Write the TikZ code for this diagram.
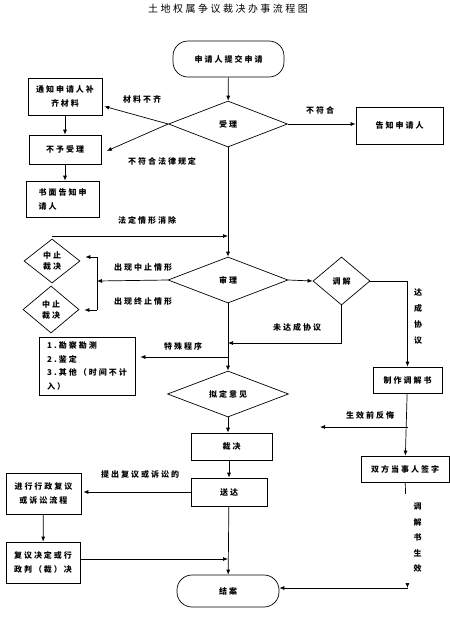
\documentclass[tikz,border=0pt]{standalone}
\usepackage{fontspec}
\newfontfamily\cjk{Noto Sans CJK SC}[LetterSpace=25]
\usetikzlibrary{positioning,arrows.meta,shapes.geometric}

\begin{document}
\begin{tikzpicture}[x=1pt, y=-1pt, >={Latex[length=5pt,width=4pt]}, line width=0.7pt,
  every node/.style={font=\cjk\bfseries\fontsize{8}{14}\selectfont, inner sep=1pt},
  box/.style={draw, align=center, inner sep=2pt},
  term/.style={draw, rounded corners=15pt, align=center},
  dec/.style={draw, diamond, align=center, inner sep=0pt},
  vlab/.style={align=center, font=\cjk\bfseries\fontsize{8}{#1}\selectfont}]
  \useasboundingbox (0,0) rectangle (450,622);
  \node[font=\cjk\fontsize{10}{12}\selectfont] (title) at (228,9) {土地权属争议裁决办事流程图};

  % main column
  \node[term, minimum width=111pt, minimum height=36pt] (start) at (228.5,59) {申请人提交申请};
  \node[dec, minimum width=119pt, minimum height=46pt] (accept) at (228,124) {受理};
  \node[dec, minimum width=120pt, minimum height=46pt] (hear) at (228,280) {审理};
  \node[dec, minimum width=121pt, minimum height=46pt] (draft) at (228,394) {拟定意见};
  \node[box, minimum width=81pt, minimum height=27pt] (ruling) at (231.5,446.5) {裁决};
  \node[box, minimum width=76pt, minimum height=28pt] (deliver) at (229,492) {送达};
  \node[term, minimum width=102pt, minimum height=32pt] (close) at (228,591) {结案};

  % left side
  \node[box, minimum width=74pt, minimum height=37pt] (notify) at (65,96.5) {通知申请人补\\齐材料};
  \node[box, minimum width=72pt, minimum height=29pt] (reject) at (65,149.5) {不予受理};
  \node[box, minimum width=73pt, minimum height=36pt, align=left] (written) at (62.5,199) {书面告知申\\请人};
  \node[dec, minimum width=56pt, minimum height=44pt, vlab=11] (pause) at (52,261) {中止\\裁决};
  \node[dec, minimum width=56pt, minimum height=47pt, vlab=11] (stop) at (51,309.5) {中止\\裁决};
  \node[box, minimum width=96pt, minimum height=58pt, vlab=13.5, align=left] (special) at (87,366)
    {1.勘察勘测\\2.鉴定\\3.其他（时间不计\\入）};
  \node[box, minimum width=75pt, minimum height=41pt] (review) at (43.5,493.5) {进行行政复议\\或诉讼流程};
  \node[box, minimum width=74pt, minimum height=41pt, align=left] (decision) at (43,562.5) {复议决定或行\\政判（裁）决};

  % right side
  \node[box, minimum width=87pt, minimum height=37pt] (inform) at (399.5,125.5) {告知申请人};
  \node[dec, minimum width=57pt, minimum height=48pt] (mediate) at (341.5,281) {调解};
  \node[box, minimum width=69pt, minimum height=26pt] (book) at (407.5,380) {制作调解书};
  \node[box, minimum width=88pt, minimum height=26pt] (sign) at (405,469) {双方当事人签字};

  \coordinate (resume) at (52,236);
  \coordinate (split) at (97,281);
  \coordinate (upper) at (97,257);
  \coordinate (lower) at (97,310);
  \coordinate (nomeet) at (228,343);
  \coordinate (detour) at (228,357);
  \coordinate (regret) at (407.5,427);
  \coordinate (regretend) at (320,427);
  \coordinate (valid) at (407.5,588);
  \coordinate (merge) at (228,559);

  \draw[->] (start) -- (accept);
  \draw[->, shorten >=2pt] (accept.west) -- (notify.-14);
  \draw[->, shorten >=6pt] (accept.west) -- (reject.-6);
  \draw[->] (notify) -- (reject);
  \draw[->] (reject.south) -- (reject.south |- written.north);
  \draw[->] (accept.east) -- (accept.east -| inform.west);
  \draw[->] (accept) -- (hear);
  \draw[->] (resume) -- (resume -| hear.north);
  \draw[->] (hear.west) -- (split);
  \draw (upper) -- (lower);
  \draw[->, shorten >=5pt] (upper) -- (upper -| pause.east);
  \draw[->, shorten >=5pt] (lower) -- (lower -| stop.east);
  \draw[->] (hear.east) -- (mediate.west);
  \draw[->] (mediate.east) -| (book.north);
  \draw[->] (mediate.south) |- (nomeet);
  \draw[->] (hear) -- (draft);
  \draw[->, shorten >=5pt] (detour) -- (detour -| special.east);
  \draw[->] (draft.south) -- (draft.south |- ruling.north);
  \draw[->] (ruling.south -| deliver.north) -- (deliver.north);
  \draw[->] (book) -- (sign);
  \draw[->] (regret) -- (regretend);
  \draw[->] (sign) -- (valid);
  \draw[->] (valid) -- (valid -| close.east);
  \draw[->, shorten >=2pt] (deliver.west) -- (deliver.west -| review.east);
  \draw[->] (review) -- (decision);
  \draw[->] (decision.east |- merge) -- (merge);
  \draw[->] (deliver) -- (close);

  % labels
  \node (lmissing) at (142,99) {材料不齐};
  \node (lillegal) at (162,161) {不符合法律规定};
  \node (lunfit) at (320,110) {不符合};
  \node (lresume) at (147,220) {法定情形消除};
  \node (lpause) at (143,267) {出现中止情形};
  \node (lstop) at (143,301) {出现终止情形};
  \node[vlab=16] (lagree) at (418,317) {达\\成\\协\\议};
  \node (lnomeet) at (297,327) {未达成协议};
  \node (ldetour) at (183,346) {特殊程序};
  \node (lregret) at (370,415) {生效前反悔};
  \node (lappeal) at (140,474) {提出复议或诉讼的};
  \node[vlab=15.5, fill=white, minimum width=30pt, minimum height=89pt] (lvalid) at (417.5,538) {调\\解\\书\\生\\效};
\end{tikzpicture}
\end{document}
